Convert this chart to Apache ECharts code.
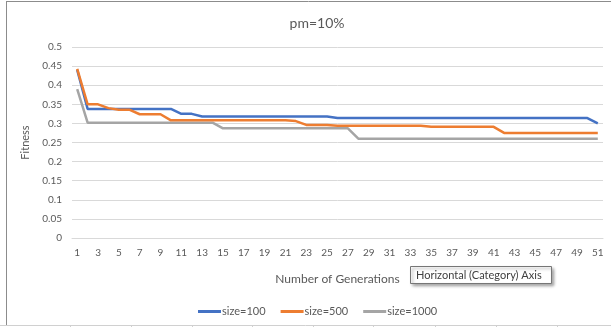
<!DOCTYPE html>
<html>
<head>
<meta charset="utf-8">
<script src="https://cdn.jsdelivr.net/npm/echarts@6/dist/echarts.min.js"></script>
<style>
html,body{margin:0;padding:0;background:#fff;}
#c{width:611px;height:327px;}
</style>
</head>
<body>
<div id="c"></div>
<script>
var categories = [];
for (var i = 1; i <= 51; i++) categories.push(String(i));

var size100 = [0.44,0.338,0.338,0.338,0.338,0.338,0.338,0.338,0.338,0.338,
  0.325,0.325,0.318,0.318,0.318,0.318,0.318,0.318,0.318,0.318,
  0.318,0.318,0.318,0.318,0.318,0.314,0.314,0.314,0.314,0.314,
  0.314,0.314,0.314,0.314,0.314,0.314,0.314,0.314,0.314,0.314,
  0.314,0.314,0.314,0.314,0.314,0.314,0.314,0.314,0.314,0.314,0.30];
var size500 = [0.443,0.35,0.35,0.34,0.336,0.336,0.324,0.324,0.324,0.308,
  0.308,0.308,0.308,0.308,0.308,0.308,0.308,0.308,0.308,0.308,
  0.308,0.306,0.296,0.296,0.296,0.294,0.294,0.294,0.294,0.294,
  0.294,0.294,0.294,0.294,0.291,0.291,0.291,0.291,0.291,0.291,
  0.291,0.275,0.275,0.275,0.275,0.275,0.275,0.275,0.275,0.275,0.275];
var size1000 = [0.39,0.302,0.302,0.302,0.302,0.302,0.302,0.302,0.302,0.302,
  0.302,0.302,0.302,0.302,0.287,0.287,0.287,0.287,0.287,0.287,
  0.287,0.287,0.287,0.287,0.287,0.287,0.287,0.26,0.26,0.26,
  0.26,0.26,0.26,0.26,0.26,0.26,0.26,0.26,0.26,0.26,
  0.26,0.26,0.26,0.26,0.26,0.26,0.26,0.26,0.26,0.26,0.26];

var seriesNames = ['size=100','size=500','size=1000'];
var seriesColors = ['#4472C4','#ED7D31','#A5A5A5'];
var seriesData = [size100, size500, size1000];

var FONT = 'Lato, "Liberation Sans", sans-serif';
var chart = echarts.init(document.getElementById('c'), null, {renderer:'canvas'});

var cellTicks = [];
[70,131,192,252,313,373,435,496,557].forEach(function(x){
  cellTicks.push({type:'line', shape:{x1:x+0.5,y1:325,x2:x+0.5,y2:327}, style:{stroke:'#d0d0d0',lineWidth:1}, silent:true});
});

chart.setOption({
  animation:false,
  backgroundColor:'#ffffff',
  title:{
    text:'pm=10%', left:312, top:11, textAlign:'center',
    textStyle:{fontFamily:FONT, fontSize:14, fontWeight:'normal', color:'#595959'}
  },
  legend:{
    data:seriesNames.map(function(n){ return {name:n, icon:'rect'}; }),
    left:193, top:301, itemWidth:23, itemHeight:3, itemGap:15,
    textStyle:{fontFamily:FONT, fontSize:11, color:'#595959', padding:[0,0,0,-4]}
  },
  grid:{left:72, right:8, top:47, bottom:89, containLabel:false},
  xAxis:{
    type:'category', data:categories, boundaryGap:true,
    name:'Number of Generations', nameLocation:'middle', nameGap:35,
    nameTextStyle:{fontFamily:FONT, fontSize:12, color:'#595959'},
    axisLine:{show:true, lineStyle:{color:'#d9d9d9'}},
    axisTick:{show:false},
    axisLabel:{interval:1, fontFamily:FONT, fontSize:10, color:'#595959', margin:10},
    splitLine:{show:false}
  },
  yAxis:{
    type:'value', min:0, max:0.5, interval:0.05,
    name:'Fitness', nameLocation:'middle', nameGap:39, nameRotate:90,
    nameTextStyle:{fontFamily:FONT, fontSize:11, color:'#595959'},
    axisLine:{show:false}, axisTick:{show:false},
    axisLabel:{fontFamily:FONT, fontSize:10, color:'#595959', margin:10,
      formatter:function(v){ return String(+v.toFixed(2)); }},
    splitLine:{lineStyle:{color:'#d9d9d9', width:1}}
  },
  series: seriesNames.map(function(n, k){
    return {
      name:n, type:'line', data:seriesData[k], symbol:'none',
      lineStyle:{color:seriesColors[k], width:2.5}, itemStyle:{color:seriesColors[k]},
      z: k===1 ? 4 : (k===0 ? 3 : 2)
    };
  }),
  graphic:[
    {type:'line', shape:{x1:6,y1:1.5,x2:611,y2:1.5}, style:{stroke:'#8c8c8c',lineWidth:1}, silent:true},
    {type:'line', shape:{x1:6.5,y1:1,x2:6.5,y2:325}, style:{stroke:'#8c8c8c',lineWidth:1}, silent:true},
    {type:'line', shape:{x1:0,y1:325.5,x2:611,y2:325.5}, style:{stroke:'#d0d0d0',lineWidth:1}, silent:true}
  ].concat(cellTicks).concat([
    {type:'rect', shape:{x:410.5,y:266.5,width:141,height:17},
      style:{fill:'#ffffff', stroke:'#767676', lineWidth:1, shadowColor:'rgba(0,0,0,0.35)', shadowBlur:3, shadowOffsetX:2, shadowOffsetY:2}, z:100, silent:true},
    {type:'text', x:416, y:275, z:101, silent:true,
      style:{text:'Horizontal (Category) Axis', fontFamily:FONT, fontSize:11, fill:'#404040', textVerticalAlign:'middle', verticalAlign:'middle'}}
  ])
});
</script>
</body>
</html>
